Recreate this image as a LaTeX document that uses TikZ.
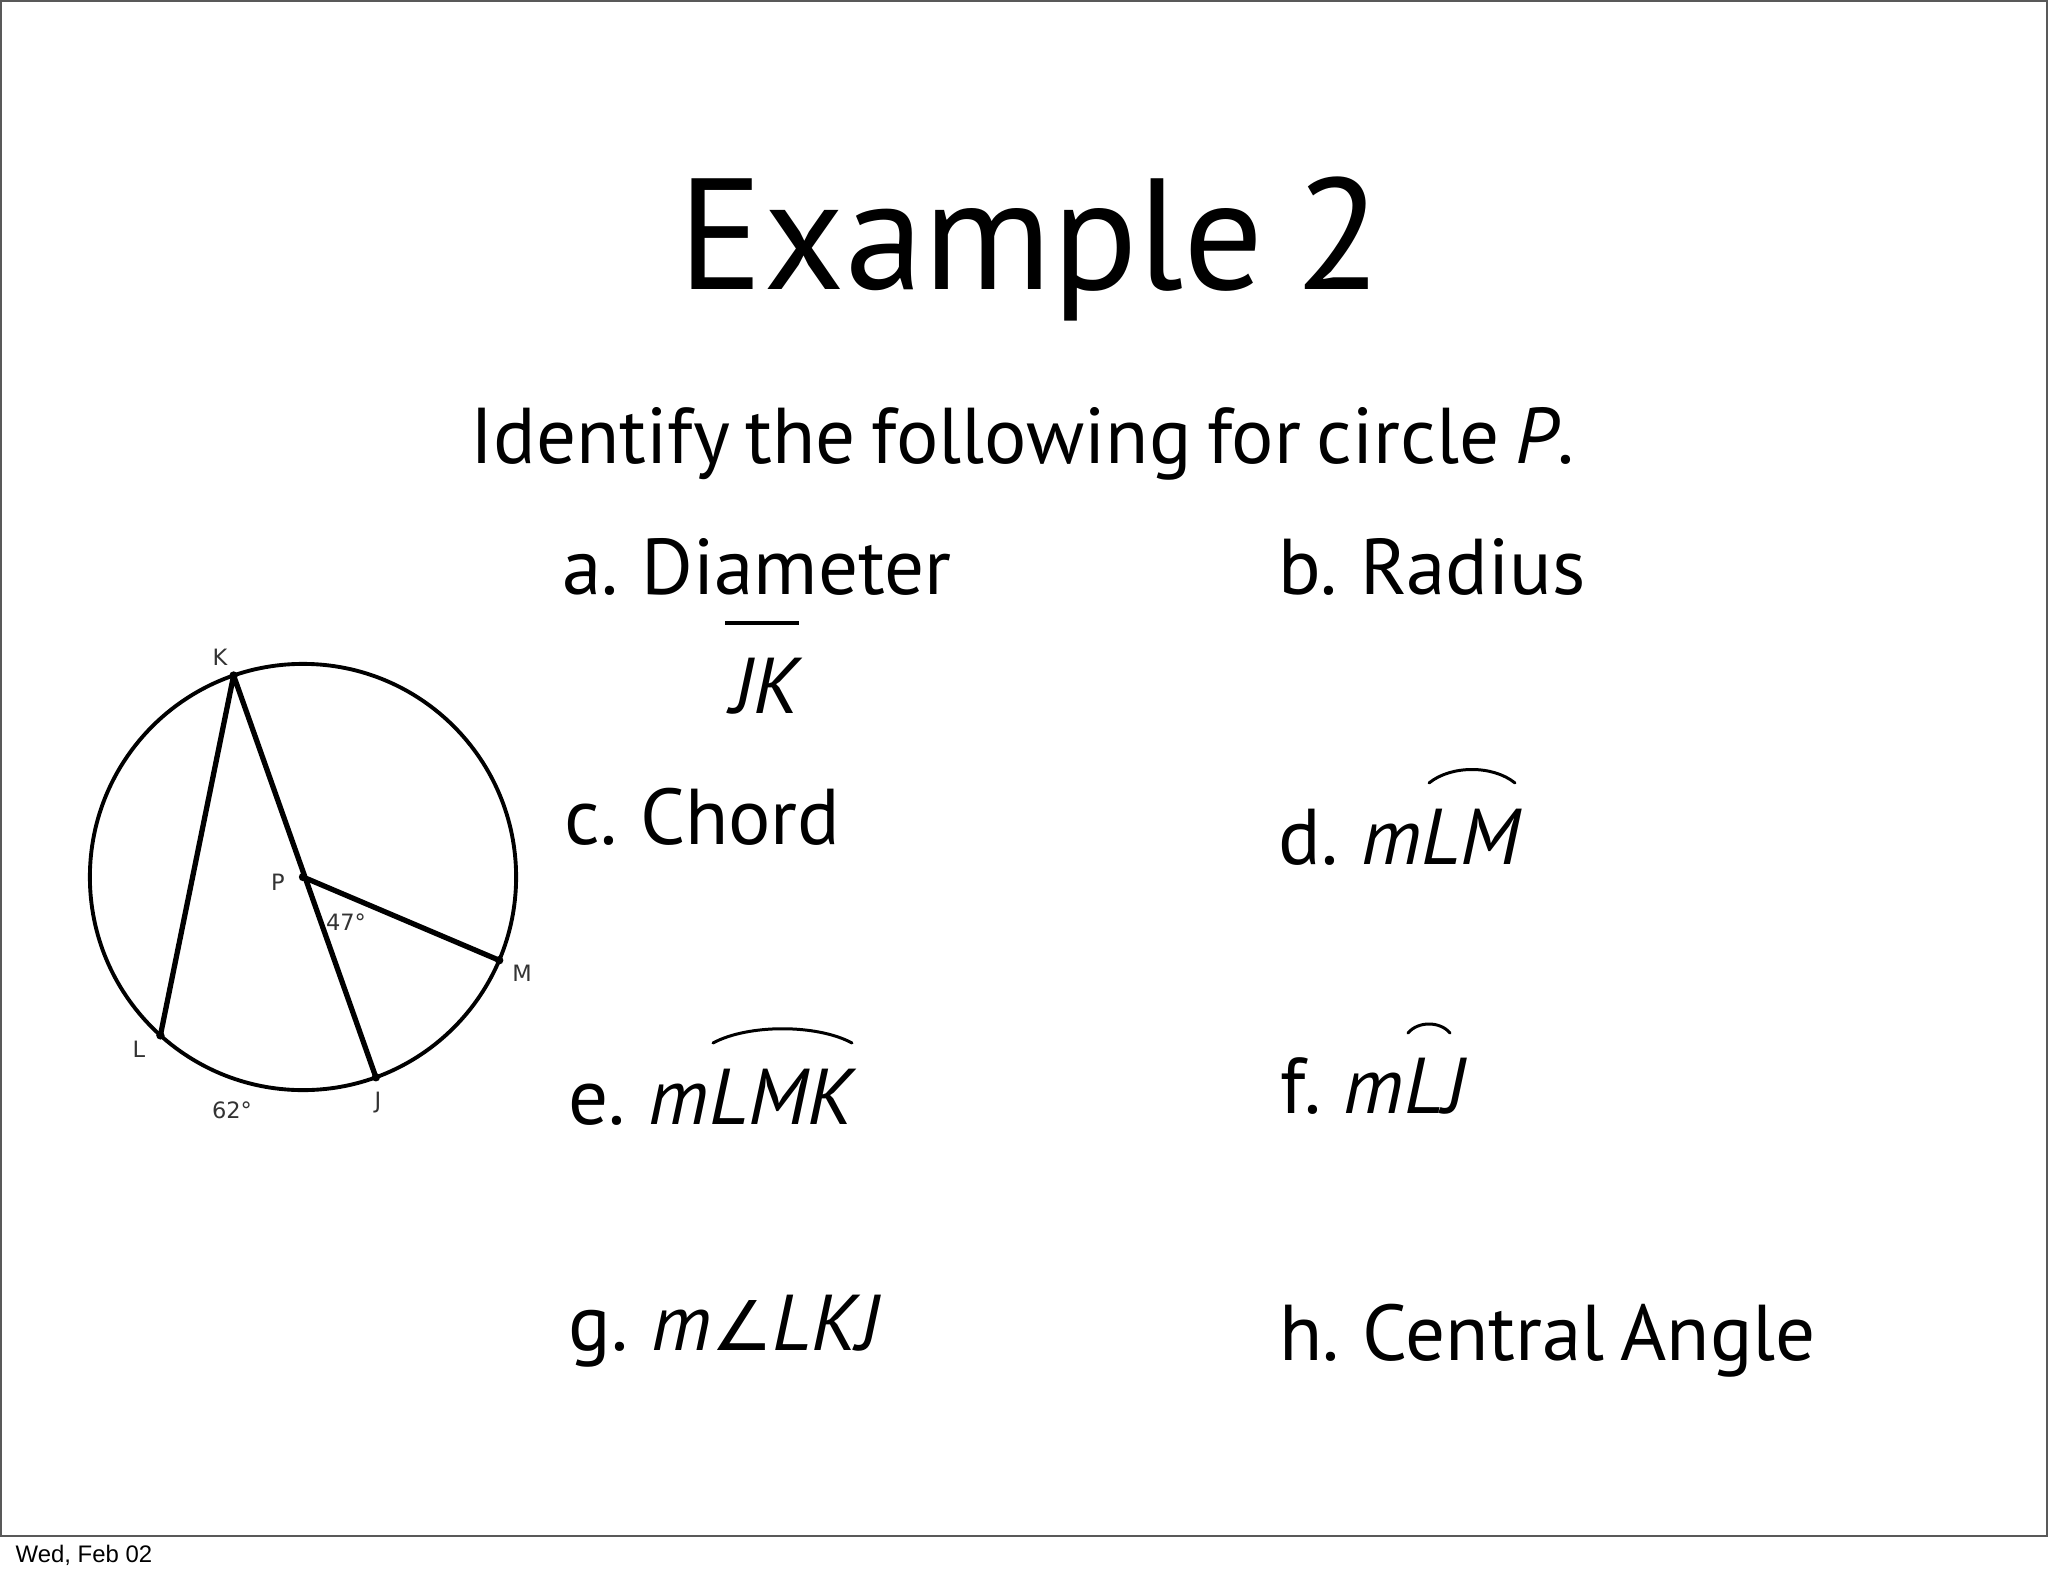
\documentclass[tikz,border=0pt]{standalone}
\usepackage{fontspec}
\setmainfont{PT Sans}
\newfontfamily\lblfont{DejaVu Sans}
\newfontfamily\datefont{Liberation Sans}
\newcommand\tightsp{\spaceskip 0.2em\relax}
\usetikzlibrary{positioning}

\tikzset{
  item/.style={anchor=base west, inner sep=0pt, font=\fontsize{22.5}{27}\selectfont\tightsp},
  ptlabel/.style={inner sep=0pt, text=black!80, font=\lblfont\fontsize{6.4}{7}\selectfont},
  chord/.style={line width=1.5pt},
  arcmark/.style={line width=0.85pt, line cap=round}
}

\begin{document}
\begin{tikzpicture}[x=0.01cm, y=-0.01cm]
  \useasboundingbox (0,0) rectangle (2048,1576);
  \draw[black!65, line width=0.6pt] (1,1) rectangle (2047,1536);

  % heading
  \node[item, font=\fontsize{45}{54}\selectfont\tightsp] (title) at (678,289) {Example 2};
  \node[item] (intro) at (470,463) {Identify the following for circle \textit{P}.};

  % the eight questions
  \node[item] (qa) at (562,594) {a. Diameter};
  \node[item] (qaans) at (731,713) {\textit{JK}};
  \draw[line width=1.1pt] (725,623) -- (799,623);
  \node[item] (qb) at (1278,594) {b. Radius};
  \node[item] (qc) at (564,844) {c. Chord};
  \node[item] (qd) at (1278,864) {d. \textit{mLM}};
  \draw[arcmark] (1429,783) .. controls (1451,765) and (1493,765) .. (1515,783);
  \node[item] (qe) at (568,1124) {e. \textit{mLMK}};
  \draw[arcmark] (713,1043) .. controls (748,1024) and (817,1024) .. (852,1043);
  \node[item] (qf) at (1280,1113) {f. \textit{mLJ}};
  \draw[arcmark] (1408,1033) .. controls (1418,1021) and (1440,1021) .. (1450,1033);
  \node[item] (qg) at (568,1350) {g. \textit{m}{\lblfont\fontsize{19.5}{22}\selectfont ∠}\textit{LKJ}};
  \node[item] (qh) at (1279,1360) {h. Central Angle};

  % circle P
  \node[circle, draw, line width=1.1pt, minimum size=4.26cm, inner sep=0pt, outer sep=0pt] (circ) at (303,877) {};
  \coordinate (P) at (circ.center);
  \coordinate (K) at (circ.109.3);
  \coordinate (J) at (circ.-70.7);
  \coordinate (M) at (circ.-23.4);
  \coordinate (L) at (circ.-132.7);
  \draw[chord] (K) -- (L) (K) -- (J) (P) -- (M);
  \foreach \p in {K,L,J,M,P}
    \fill (\p) circle (0.042cm);

  \node[ptlabel] (labK) at (220,657) {K};
  \node[ptlabel] (labP) at (278,882) {P};
  \node[ptlabel] (labM) at (522,973) {M};
  \node[ptlabel] (labL) at (139,1049) {L};
  \node[ptlabel] (labJ) at (378,1103) {J};
  \node[ptlabel] (ang47) at (346,922) {47°};
  \node[ptlabel] (ang62) at (232,1110) {62°};

  \node[anchor=base west, inner sep=0pt, font=\datefont\fontsize{6.8}{8}\selectfont] (date) at (15,1562) {Wed, Feb 02};
\end{tikzpicture}
\end{document}
